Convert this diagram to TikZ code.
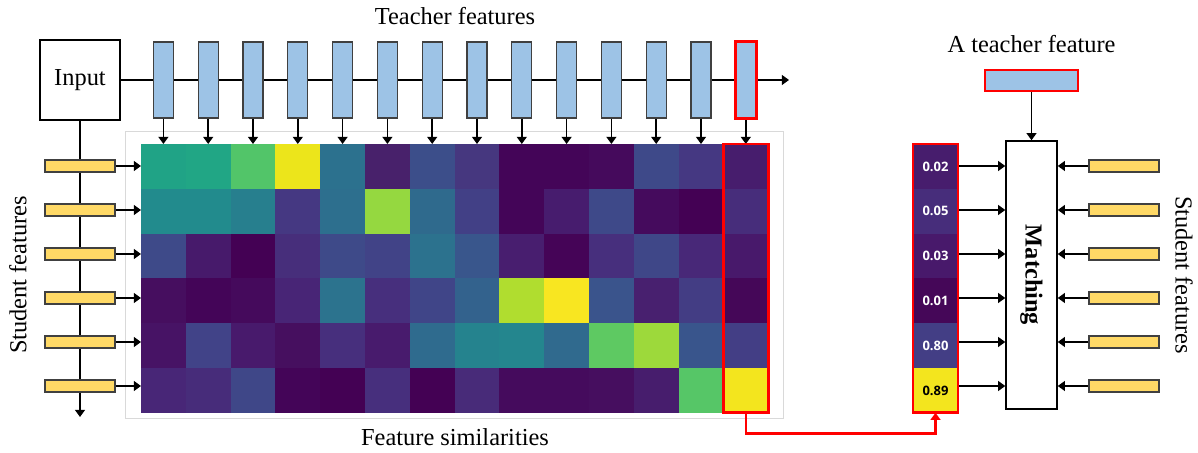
\documentclass[tikz,border=0pt]{standalone}
\usepackage{fontspec}
\setmainfont{Liberation Serif}
\newfontfamily\numfont{Open Sans}
\usetikzlibrary{arrows.meta}
\definecolor{tblue}{HTML}{9DC3E6}
\definecolor{sgold}{HTML}{FFD966}
\definecolor{framegray}{HTML}{D9D9D9}

\begin{document}
\begin{tikzpicture}[x=0.5pt, y=-0.5pt, font=\fontsize{12.2}{14}\selectfont,
	>={Triangle[length=3.6pt,width=5pt]},
	line/.style={line width=0.75pt},
	tbar/.style={draw=black!75, fill=tblue, line width=0.6pt, minimum width=10pt, minimum height=38pt, inner sep=0pt},
	sbar/.style={draw=black!75, fill=sgold, line width=0.6pt, minimum width=35pt, minimum height=6pt, inner sep=0pt},
	cell/.style={minimum size=22.4pt, inner sep=0pt, outer sep=0pt},
	redbox/.style={draw=red, line width=1.3pt},
	score/.style={cell, font=\numfont\bfseries\fontsize{6.5}{7}\selectfont}]
	\useasboundingbox (0,0) rectangle (1198,453);
	%input and backbone
	\node[draw, line width=0.6pt, minimum size=40pt, inner sep=0pt] (in) at (80,80) {Input};
	\coordinate (tend) at (789,80);
	\coordinate (send) at (80,417);
	\draw[line,->] (in.east) -- (tend);
	\draw[line,->] (in.south) -- (send);
	%frame
	\draw[framegray, line width=0.4pt] (125,131) rectangle (783,418);
	%similarity map
	\foreach \r/\row in {
		1/{20A386,21A685,52C569,ECE51B,2C718E,48216B,3C4E8A,46377F,440558,440558,450A5C,3E4989,453882,471D6D},
		2/{228B8D,228B8D,277F8E,453882,2D6F8E,95D840,2F6A8D,424086,440558,471C6E,3E4989,450B5D,440154,472D7B},
		3/{3E4A89,471A6B,440154,472E7B,3E4A89,414387,2C728E,39568C,481E6F,450457,472F7D,3F4788,482878,48196B},
		4/{460E5F,440558,450A5C,482576,2C738E,472F7D,404588,33628D,B0DD2F,F8E621,3A548C,48206F,433D84,450758},
		5/{471365,414388,481A6C,460F5F,472F7D,481B6D,2F6B8E,25838E,24868E,306A8E,5EC962,9DD93B,39558C,433E85},
		6/{482677,472C7A,3F4788,440558,440154,472F7D,440154,482B79,450B5D,450B5D,460E5F,471D6D,56C667,F3E51E}}
	\foreach \hx [count=\c] in \row {
		\definecolor{cellc}{HTML}{\hx}
		\node[cell, fill=cellc] (h-\r-\c) at ({118.6+44.8*\c},{121.6+44.8*\r}) {};
	};
	%teacher features
	\foreach \c in {1,...,14} {
		\node[tbar] (t\c) at ({118.6+44.8*\c},80) {};
		\draw[line,->] (t\c.south) -- (h-1-\c.north);
	}
	%student features
	\foreach \r in {1,...,6} {
		\node[sbar] (sl\r) at (80,{122+44*\r}) {};
		\draw[line,->] (sl\r.east) -- (sl\r.east -| h-1-1.west);
	}
	%labels
	\node (tlabel) at (455,16) {Teacher features};
	\node (flabel) at (455,437) {Feature similarities};
	\node[rotate=90] (slabl) at (18,275) {Student features};
	\node[rotate=-90] (slabr) at (1184,275) {Student features};
	\node (alabel) at (1031.5,44) {A teacher feature};
	%matching
	\node[draw, line width=0.75pt, minimum width=25.5pt, minimum height=134pt, inner sep=0pt] (match) at (1031.5,275) {};
	\node[rotate=-90, font=\fontsize{12.2}{14}\selectfont\bfseries] (mtext) at (match.center) {Matching};
	\node[tbar, draw=red, line width=1.3pt, minimum width=46.5pt, minimum height=10.5pt] (tf) at (1031.5,80.5) {};
	\draw[line,->] (tf.south) -- (match.north);
	%scores
	\foreach \r/\hx/\v/\tc in {1/471D6D/0.02/white, 2/472D7B/0.05/white, 3/48196B/0.03/white,
		4/450758/0.01/white, 5/433E85/0.80/white, 6/F3E51E/0.89/black} {
		\definecolor{cellc}{HTML}{\hx}
		\node[score, fill=cellc, text=\tc] (sc\r) at (935.5,{121.6+44.8*\r}) {\v};
	}
	\foreach \r in {1,...,6} {
		\node[sbar] (sr\r) at (1124,{122+44*\r}) {};
		\draw[line,->] (sc\r.east |- sr\r) -- (match.west |- sr\r);
		\draw[line,->] (sr\r.west) -- (match.east |- sr\r);
	}
	%highlight
	\draw[redbox] (t14.north west) rectangle (t14.south east);
	\draw[redbox] (h-1-14.north west) rectangle (h-6-14.south east);
	\draw[redbox] (sc1.north west) rectangle (sc6.south east);
	\draw[redbox,->] (h-6-14.south) -- ++(0,21) -| (sc6.south);
\end{tikzpicture}
\end{document}
